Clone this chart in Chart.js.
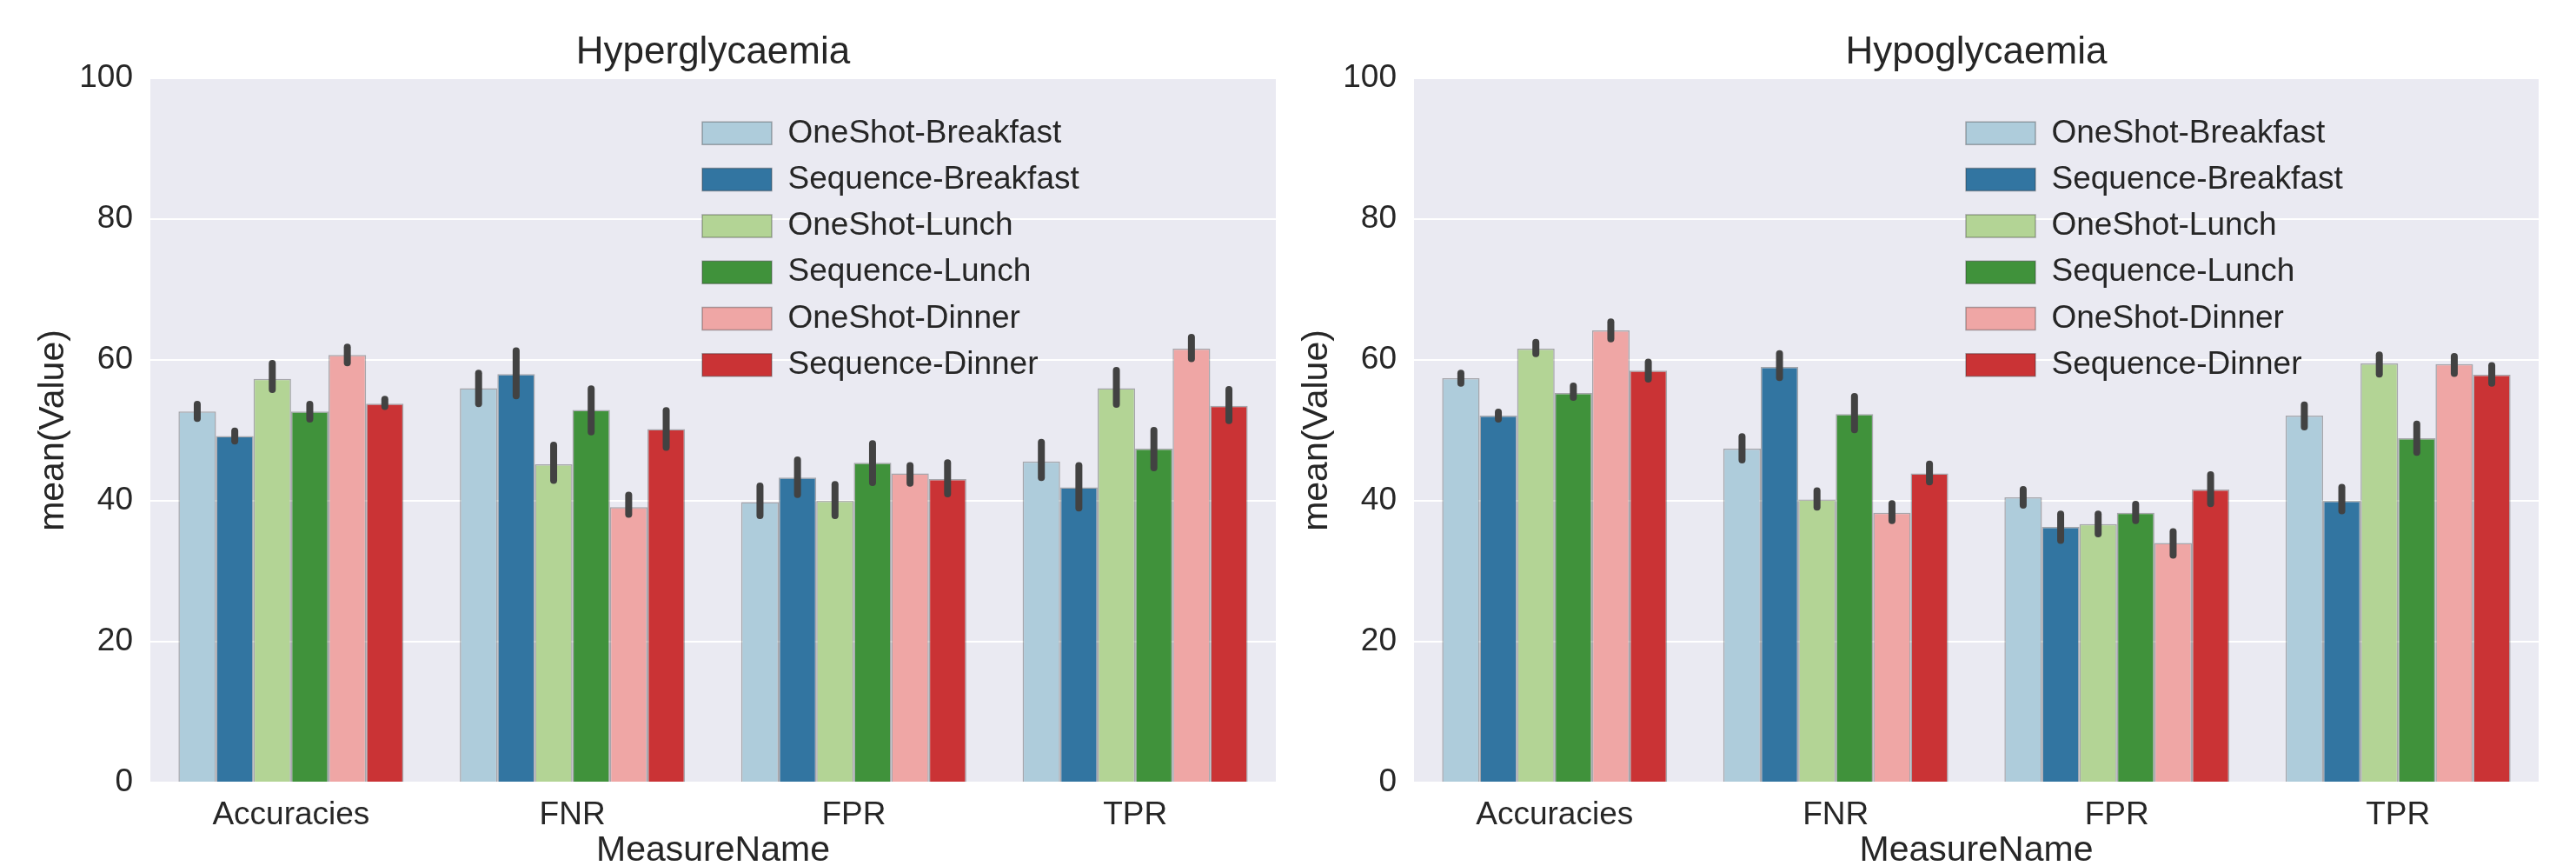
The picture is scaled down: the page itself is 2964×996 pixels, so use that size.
<!DOCTYPE html>
<html>
<head>
<meta charset="utf-8">
<script src="https://cdn.jsdelivr.net/npm/chart.js@4.4.0/dist/chart.umd.min.js"></script>
<style>
html, body { margin: 0; padding: 0; background: #ffffff; }
#wrap { position: relative; width: 2964px; height: 996px; overflow: hidden; background: #ffffff; }
canvas { position: absolute; top: 0; }
</style>
</head>
<body>
<div id="wrap">
  <canvas id="hyper" width="1482" height="996" style="left:0px;width:1482px;height:996px"></canvas>
  <canvas id="hypo" width="1511" height="996" style="left:1454px;width:1511px;height:996px"></canvas>
</div>
<script>
// ---------------- data ----------------
const categories = ['Accuracies', 'FNR', 'FPR', 'TPR'];
const seriesNames = ['OneShot-Breakfast', 'Sequence-Breakfast', 'OneShot-Lunch', 'Sequence-Lunch', 'OneShot-Dinner', 'Sequence-Dinner'];
const yTicks = [0, 20, 40, 60, 80, 100];

// Hyperglycaemia: mean values per series (Accuracies, FNR, FPR, TPR)
const hyperOneShotBreakfast  = [52.7, 56.0, 39.8, 45.6];
const hyperSequenceBreakfast = [49.2, 58.0, 43.3, 41.9];
const hyperOneShotLunch      = [57.3, 45.2, 40.0, 56.0];
const hyperSequenceLunch     = [52.7, 52.9, 45.4, 47.4];
const hyperOneShotDinner     = [60.7, 39.1, 43.9, 61.6];
const hyperSequenceDinner    = [53.8, 50.2, 43.1, 53.5];

// Hyperglycaemia: confidence intervals [low, high]
const hyperOneShotBreakfastCI  = [[51.2, 54.2], [53.3, 58.6], [37.4, 42.6], [42.8, 48.8]];
const hyperSequenceBreakfastCI = [[48.0, 50.4], [54.4, 61.8], [40.4, 46.3], [38.5, 45.5]];
const hyperOneShotLunchCI      = [[55.3, 60.0], [42.4, 48.4], [37.4, 42.8], [53.2, 59.0]];
const hyperSequenceLunchCI     = [[51.1, 54.2], [49.3, 56.4], [42.1, 48.6], [44.2, 50.5]];
const hyperOneShotDinnerCI     = [[59.1, 62.3], [37.6, 41.3], [42.0, 45.5], [59.7, 63.7]];
const hyperSequenceDinnerCI    = [[52.9, 54.9], [47.1, 53.3], [40.5, 45.9], [50.9, 56.3]];

// Hypoglycaemia: mean values per series
const hypoOneShotBreakfast  = [57.4, 47.4, 40.5, 52.1];
const hypoSequenceBreakfast = [52.1, 59.0, 36.3, 40.0];
const hypoOneShotLunch      = [61.6, 40.2, 36.7, 59.5];
const hypoSequenceLunch     = [55.3, 52.3, 38.3, 48.9];
const hypoOneShotDinner     = [64.2, 38.3, 34.0, 59.4];
const hypoSequenceDinner    = [58.5, 43.9, 41.6, 57.9];

// Hypoglycaemia: confidence intervals [low, high]
const hypoOneShotBreakfastCI  = [[56.2, 58.6], [45.3, 49.6], [38.9, 42.1], [50.0, 54.1]];
const hypoSequenceBreakfastCI = [[51.1, 53.1], [57.0, 61.4], [33.9, 38.6], [38.1, 42.4]];
const hypoOneShotLunchCI      = [[60.4, 63.0], [38.6, 41.9], [34.8, 38.6], [57.5, 61.2]];
const hypoSequenceLunchCI     = [[54.2, 56.8], [49.6, 55.3], [36.7, 40.0], [46.4, 51.4]];
const hypoOneShotDinnerCI     = [[62.5, 65.9], [36.7, 40.1], [31.8, 36.1], [57.6, 61.0]];
const hypoSequenceDinnerCI    = [[56.8, 60.2], [42.2, 45.7], [39.1, 44.2], [56.2, 59.7]];

// ---------------- styling ----------------
const seriesColors = ['#aeccdb', '#3275a1', '#b3d495', '#40923b', '#efa6a5', '#ca3335'];
const textColor = '#262626';
const FONT = '"Liberation Sans", Arial, "DejaVu Sans", sans-serif';
Chart.defaults.font.family = FONT;
Chart.defaults.color = textColor;

const bgPlugin = {
  id: 'areaBg',
  beforeDraw(chart) {
    const a = chart.chartArea;
    const ctx = chart.ctx;
    ctx.save();
    ctx.fillStyle = '#eaeaf2';
    ctx.fillRect(a.left, a.top, a.right - a.left, a.bottom - a.top);
    ctx.restore();
  }
};

const errorBarPlugin = {
  id: 'errorBars',
  afterDatasetsDraw(chart, args, opts) {
    const ctx = chart.ctx;
    const yScale = chart.scales.y;
    const ci = opts.ci || [];
    ctx.save();
    ctx.strokeStyle = '#424242';
    ctx.lineWidth = 8;
    ctx.lineCap = 'round';
    ci.forEach((seriesCI, d) => {
      const meta = chart.getDatasetMeta(d);
      meta.data.forEach((bar, i) => {
        const lo = yScale.getPixelForValue(seriesCI[i][0]);
        const hi = yScale.getPixelForValue(seriesCI[i][1]);
        ctx.beginPath();
        ctx.moveTo(bar.x, hi + 4);
        ctx.lineTo(bar.x, lo - 4);
        ctx.stroke();
      });
    });
    ctx.restore();
  }
};

const legendPlacePlugin = {
  id: 'legendPlace',
  afterLayout(chart, args, opts) {
    const lg = chart.legend;
    if (!lg) return;
    const a = chart.chartArea;
    const pad = lg.options.labels.padding;
    lg.left = a.left + opts.dx - pad;
    lg.top = a.top + opts.dy - pad;
    lg.right = lg.left + lg.width;
    lg.bottom = lg.top + 2000;
  }
};

function makeChart(id, titleText, values, cis, rightPad) {
  const datasets = seriesNames.map((name, k) => ({
    label: name,
    data: values[k],
    backgroundColor: seriesColors[k],
    borderColor: 'rgba(40,40,40,0.35)',
    borderWidth: 1.5,
    borderSkipped: 'start',
    categoryPercentage: 0.8,
    barPercentage: 1.0
  }));
  return new Chart(document.getElementById(id), {
    type: 'bar',
    data: { labels: categories, datasets },
    options: {
      responsive: false,
      animation: false,
      devicePixelRatio: 1,
      layout: { padding: { left: 0, right: rightPad, top: 0, bottom: 0 } },
      plugins: {
        title: {
          display: true,
          text: titleText,
          color: textColor,
          fullSize: false,
          font: { size: 44, weight: 'normal', lineHeight: 1.2 },
          padding: { top: 34.6, bottom: 2.6 }
        },
        legend: {
          position: 'chartArea',
          align: 'start',
          onClick: null,
          labels: {
            boxWidth: 80,
            boxHeight: 26,
            padding: 16.3,
            color: textColor,
            font: { size: 37 }
          }
        },
        legendPlace: { dx: 635, dy: 44.8 },
        tooltip: { enabled: false },
        errorBars: { ci: cis }
      },
      scales: {
        x: {
          type: 'category',
          grid: { display: false },
          border: { display: false },
          ticks: { color: textColor, font: { size: 37 }, padding: 8 },
          title: {
            display: true,
            text: 'MeasureName',
            color: textColor,
            font: { size: 41, lineHeight: 0.85 },
            padding: 0
          },
          afterFit(s) { s.height = 96; }
        },
        y: {
          min: 0,
          max: 100,
          afterBuildTicks(s) { s.ticks = yTicks.map(v => ({ value: v })); },
          ticks: { color: textColor, font: { size: 37 }, padding: 20 },
          grid: { color: '#ffffff', lineWidth: 2, drawTicks: false },
          border: { display: false },
          title: {
            display: true,
            text: 'mean(Value)',
            color: textColor,
            font: { size: 41, lineHeight: 1.2 },
            padding: { top: 37.4, bottom: 0 }
          },
          afterFit(s) { s.width = 173; }
        }
      }
    },
    plugins: [bgPlugin, errorBarPlugin, legendPlacePlugin]
  });
}

makeChart('hyper', 'Hyperglycaemia',
  [hyperOneShotBreakfast, hyperSequenceBreakfast, hyperOneShotLunch, hyperSequenceLunch, hyperOneShotDinner, hyperSequenceDinner],
  [hyperOneShotBreakfastCI, hyperSequenceBreakfastCI, hyperOneShotLunchCI, hyperSequenceLunchCI, hyperOneShotDinnerCI, hyperSequenceDinnerCI],
  14);

makeChart('hypo', 'Hypoglycaemia',
  [hypoOneShotBreakfast, hypoSequenceBreakfast, hypoOneShotLunch, hypoSequenceLunch, hypoOneShotDinner, hypoSequenceDinner],
  [hypoOneShotBreakfastCI, hypoSequenceBreakfastCI, hypoOneShotLunchCI, hypoSequenceLunchCI, hypoOneShotDinnerCI, hypoSequenceDinnerCI],
  44);
</script>
</body>
</html>
